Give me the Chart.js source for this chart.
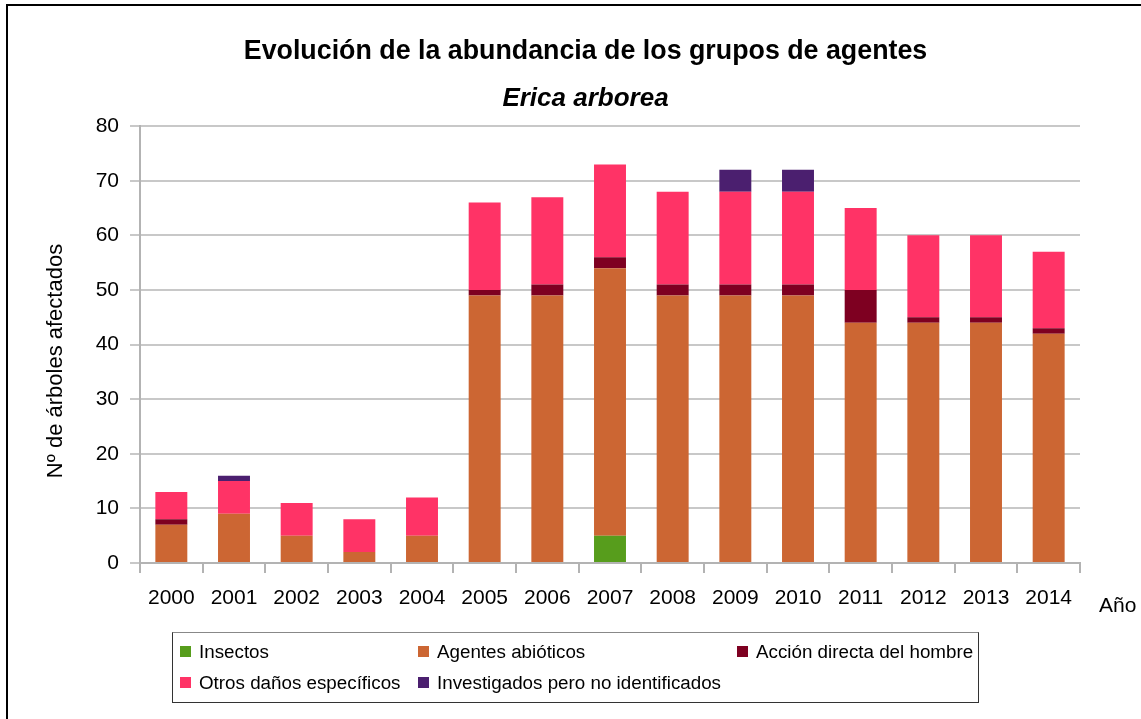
<!DOCTYPE html>
<html><head><meta charset="utf-8">
<script src="https://cdn.jsdelivr.net/npm/chart.js@4"></script>
<style>
html,body{margin:0;padding:0;background:#fff;overflow:hidden;width:1141px;height:719px;}
#wrap{position:relative;width:1141px;height:719px;overflow:hidden;}
#frame{position:absolute;left:6px;top:4px;width:1200px;height:800px;border:2px solid #000;box-sizing:border-box;}
canvas{position:absolute;left:0;top:0;}
#legend{position:absolute;left:172px;top:632px;width:807px;height:71px;border:1px solid #333;border-top-color:#888;box-sizing:border-box;font-family:"Liberation Sans",Arial,sans-serif;font-size:18.8px;color:#000;}
.txt{position:absolute;white-space:nowrap;line-height:22px;}
.sw{position:absolute;width:11px;height:11px;}
</style>
</head><body>
<div id="wrap">
<div id="frame"></div>
<canvas id="c" width="1141" height="719"></canvas>
<div id="legend"></div>
</div>
<script>
const years = ['2000','2001','2002','2003','2004','2005','2006','2007','2008','2009','2010','2011','2012','2013','2014'];
const insectos     = [0,0,0,0,0, 0, 0, 5, 0, 0, 0, 0, 0, 0, 0];
const abioticos    = [7,9,5,2,5,49,49,49,49,49,49,44,44,44,42];
const accion       = [1,0,0,0,0, 1, 2, 2, 2, 2, 2, 6, 1, 1, 1];
const otros        = [5,6,6,6,7,16,16,17,17,17,17,15,15,15,14];
const investigados = [0,1,0,0,0, 0, 0, 0, 0, 4, 4, 0, 0, 0, 0];
const seriesNames = ['Insectos','Agentes abióticos','Acción directa del hombre','Otros daños específicos','Investigados pero no identificados'];
const seriesColors = ['#579d1c','#cc6633','#7e0021','#ff3366','#4b1f6f'];
const yTicks = [0,10,20,30,40,50,60,70,80];
const titleText = 'Evolución de la abundancia de los grupos de agentes';
const subtitleText = 'Erica arborea';
const yTitle = 'Nº de árboles afectados';
const xTitle = 'Año';

const FONT = '"Liberation Sans", Arial, sans-serif';
const seriesData = [insectos, abioticos, accion, otros, investigados];

const extraText = {
  id: 'extraText',
  afterDraw(chart) {
    const ctx = chart.ctx;
    ctx.save();
    ctx.fillStyle = '#000';
    ctx.font = '22px ' + FONT;
    ctx.textAlign = 'center';
    ctx.textBaseline = 'middle';
    ctx.translate(56, 361);
    ctx.rotate(-Math.PI / 2);
    ctx.fillText(yTitle, 0, 0);
    ctx.restore();
    ctx.save();
    ctx.fillStyle = '#000';
    ctx.font = '21px ' + FONT;
    ctx.textAlign = 'left';
    ctx.textBaseline = 'middle';
    ctx.fillText(xTitle, 1099, 606);
    ctx.restore();
  }
};

new Chart(document.getElementById('c'), {
  type: 'bar',
  data: {
    labels: years,
    datasets: seriesNames.map((n, i) => ({
      label: n,
      data: seriesData[i],
      backgroundColor: seriesColors[i],
      borderWidth: 0,
      categoryPercentage: 1,
      barPercentage: 0.51
    }))
  },
  options: {
    responsive: false,
    animation: false,
    devicePixelRatio: 1,
    layout: { padding: { left: 91, right: 61, top: 0, bottom: 106 } },
    plugins: {
      legend: { display: false },
      tooltip: { enabled: false },
      title: {
        display: true, text: titleText, color: '#000',
        font: { family: FONT, size: 26.8, weight: 'bold', lineHeight: 1.2 },
        padding: { top: 36, bottom: 0 }
      },
      subtitle: {
        display: true, text: subtitleText, color: '#000',
        font: { family: FONT, size: 26, weight: 'bold', style: 'italic', lineHeight: 1.2 },
        padding: { top: 15.4, bottom: 11.4 }
      }
    },
    scales: {
      x: {
        stacked: true,
        afterFit(s) { s.height = 50; },
        grid: { offset: true, drawOnChartArea: false, drawTicks: true, tickLength: 10, color: '#b3b3b3', lineWidth: 2 },
        border: { display: true, color: '#b3b3b3', width: 2 },
        ticks: { color: '#000', font: { family: FONT, size: 21 }, padding: 13, maxRotation: 0, autoSkip: false }
      },
      y: {
        stacked: true,
        min: 0, max: 80,
        afterFit(s) { s.width = 49; },
        afterBuildTicks(s) { s.ticks = yTicks.map(v => ({ value: v })); },
        grid: { color: '#c8c8c8', lineWidth: 2, tickLength: 10, drawTicks: true },
        border: { display: true, color: '#b3b3b3', width: 2 },
        ticks: { color: '#000', font: { family: FONT, size: 21 }, padding: 11 }
      }
    }
  },
  plugins: [extraText]
});

// HTML legend
const legend = document.getElementById('legend');
const colX = [7, 245, 564];      // swatch left within box
const rowY = [13, 44];           // swatch top within box
const layout = [[0,0],[0,1],[0,2],[1,0],[1,1]];
seriesNames.forEach((n, i) => {
  const [r, c] = layout[i];
  const sw = document.createElement('div');
  sw.className = 'sw';
  sw.style.left = colX[c] + 'px';
  sw.style.top = rowY[r] + 'px';
  sw.style.background = seriesColors[i];
  legend.appendChild(sw);
  const t = document.createElement('div');
  t.className = 'txt';
  t.textContent = n;
  t.style.left = (colX[c] + 19) + 'px';
  t.style.top = (rowY[r] + 5.5 - 11) + 'px';
  legend.appendChild(t);
});
</script>
</body></html>
